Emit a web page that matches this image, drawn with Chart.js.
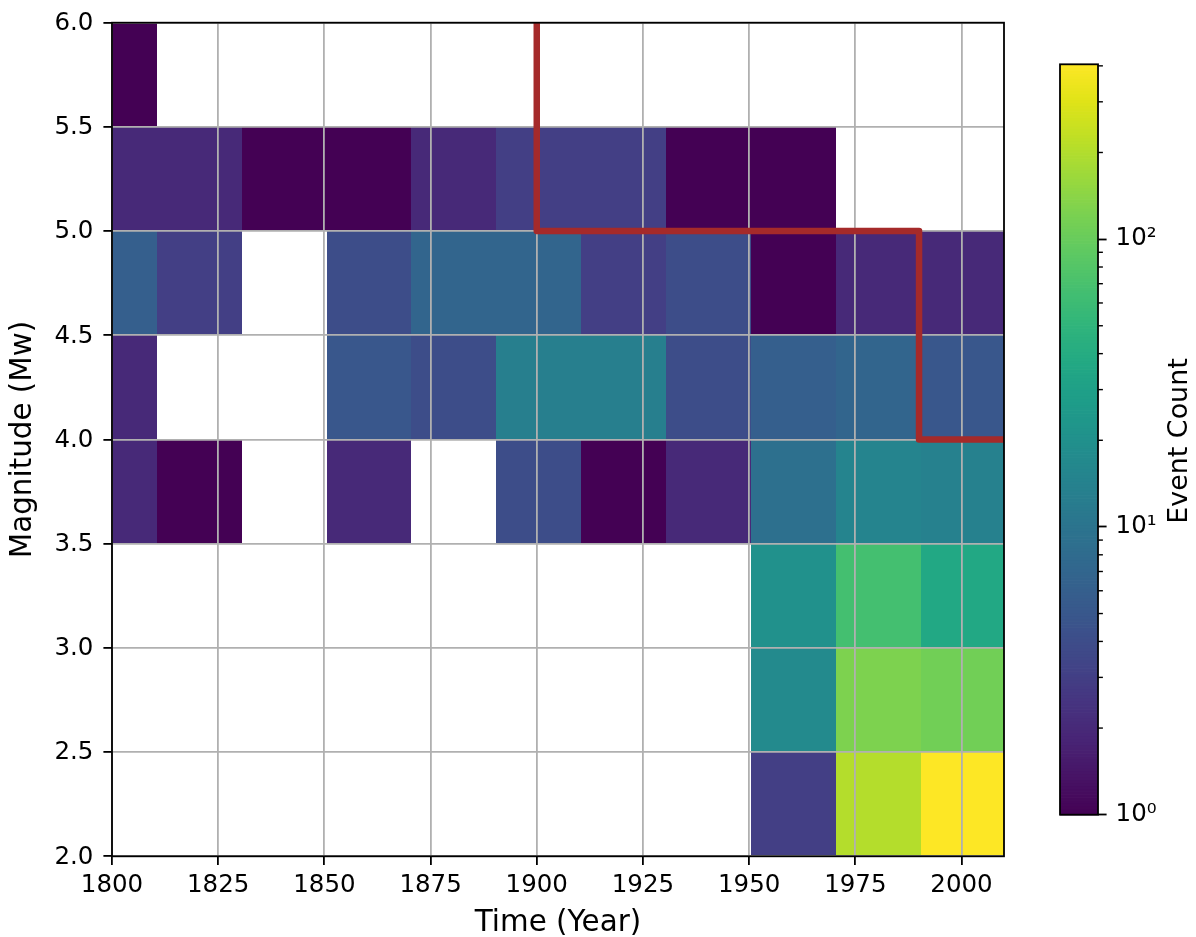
<!DOCTYPE html>
<html>
<head>
<meta charset="utf-8">
<title>Event count by magnitude and year</title>
<script src="https://cdn.jsdelivr.net/npm/chart.js@4.4.0/dist/chart.umd.min.js"></script>
<style>
  html, body { margin: 0; padding: 0; background: #fff; }
  #wrap { position: relative; width: 1196px; height: 937px; }
  #heat { position: absolute; left: 0; top: 0; }
  #cbar { position: absolute; left: 1040px; top: 0; }
</style>
</head>
<body>
<div id="wrap">
  <canvas id="heat" width="1040" height="937"></canvas>
  <canvas id="cbar" width="156" height="937"></canvas>
</div>
<script>
// bin edges of the 2d histogram
var yearEdges = [1800, 1810.5, 1830.5, 1850.5, 1870.5, 1890.5, 1910.5, 1930.5, 1950.5, 1970.5, 1990.5, 2010];
var magEdges = [2.0, 2.5, 3.0, 3.5, 4.0, 4.5, 5.0, 5.5, 6.0];

// event counts, one array per magnitude bin, one value per year bin (0 = no events)
var mag20 = [0, 0, 0, 0, 0, 0, 0, 0, 3, 206, 405];
var mag25 = [0, 0, 0, 0, 0, 0, 0, 0, 17, 125, 111];
var mag30 = [0, 0, 0, 0, 0, 0, 0, 0, 20, 67, 37];
var mag35 = [2, 1, 0, 2, 0, 4, 1, 2, 9, 15, 14];
var mag40 = [2, 0, 0, 5, 4, 13, 13, 4, 6, 7, 5];
var mag45 = [6, 3, 0, 4, 7, 7, 3, 4, 1, 2, 2];
var mag50 = [2, 2, 1, 1, 2, 3, 3, 1, 1, 0, 0];
var mag55 = [1, 0, 0, 0, 0, 0, 0, 0, 0, 0, 0];
var counts = [mag20, mag25, mag30, mag35, mag40, mag45, mag50, mag55];

// completeness step line
var stepYears = [1900, 1900, 1990, 1990, 2010];
var stepMags = [6.0, 5.0, 5.0, 4.0, 4.0];

// tick labels
var yearTicks = [1800, 1825, 1850, 1875, 1900, 1925, 1950, 1975, 2000];
var magTicks = [2.0, 2.5, 3.0, 3.5, 4.0, 4.5, 5.0, 5.5, 6.0];
var cbMajor = [1, 10, 100];
var cbMajorLabels = ['10⁰', '10¹', '10²'];
var cbMinor = [2, 3, 4, 5, 6, 7, 8, 9, 20, 30, 40, 50, 60, 70, 80, 90, 200, 300, 400];

Chart.defaults.font.family = '"DejaVu Sans", sans-serif';
Chart.defaults.color = '#000';

var viridisStops = ['#440154', '#471365', '#482475', '#463480', '#414487', '#3b528b', '#355f8d',
  '#2f6c8e', '#2a788e', '#25848e', '#21918c', '#1e9c89', '#22a884', '#2fb47c', '#44bf70',
  '#5ec962', '#7ad151', '#9bd93c', '#bddf26', '#dfe318', '#fde725'];

function hexRgb(h) {
  return [parseInt(h.substr(1, 2), 16), parseInt(h.substr(3, 2), 16), parseInt(h.substr(5, 2), 16)];
}

function viridis(t) {
  t = Math.min(1, Math.max(0, t));
  var n = viridisStops.length - 1;
  var i = Math.min(n - 1, Math.floor(t * n));
  var f = t * n - i;
  var a = hexRgb(viridisStops[i]), b = hexRgb(viridisStops[i + 1]);
  return 'rgb(' + [0, 1, 2].map(function (k) { return Math.round(a[k] + (b[k] - a[k]) * f); }).join(',') + ')';
}

var vmax = Math.max.apply(null, counts.map(function (r) { return Math.max.apply(null, r); }));
function norm(v) { return Math.log10(v) / Math.log10(vmax); }

var heatPlugin = {
  id: 'heatCells',
  beforeDraw: function (chart) {
    var ctx = chart.ctx, xs = chart.scales.x, ys = chart.scales.y;
    ctx.save();
    counts.forEach(function (row, j) {
      row.forEach(function (v, i) {
        if (!v) return;
        var x0 = Math.round(xs.getPixelForValue(yearEdges[i]));
        var x1 = Math.round(xs.getPixelForValue(yearEdges[i + 1]));
        var y0 = Math.round(ys.getPixelForValue(magEdges[j + 1]));
        var y1 = Math.round(ys.getPixelForValue(magEdges[j]));
        ctx.fillStyle = viridis(norm(v));
        ctx.fillRect(x0, y0, x1 - x0, y1 - y0);
      });
    });
    ctx.restore();
  },
  afterDraw: function (chart) {
    var a = chart.chartArea, ctx = chart.ctx;
    ctx.save();
    ctx.strokeStyle = '#000';
    ctx.lineWidth = 1.8;
    ctx.strokeRect(a.left, a.top, a.right - a.left, a.bottom - a.top);
    ctx.restore();
  }
};

new Chart(document.getElementById('heat'), {
  type: 'scatter',
  data: {
    datasets: [{
      data: stepYears.map(function (x, i) { return { x: x, y: stepMags[i] }; }),
      showLine: true,
      borderColor: '#a52a2a',
      borderWidth: 6.5,
      borderJoinStyle: 'round',
      pointRadius: 0,
      pointHoverRadius: 0
    }]
  },
  options: {
    responsive: false,
    animation: false,
    events: [],
    layout: { padding: { left: 0, top: 22.7, right: 36, bottom: 0 } },
    plugins: { legend: { display: false }, tooltip: { enabled: false } },
    scales: {
      x: {
        type: 'linear',
        min: 1800,
        max: 2010,
        afterBuildTicks: function (axis) { axis.ticks = yearTicks.map(function (v) { return { value: v }; }); },
        afterFit: function (scale) { scale.height = 80.7; },
        grid: { color: '#b0b0b0', lineWidth: 1.8, tickColor: '#000', tickWidth: 1.8, tickLength: 8.6 },
        border: { display: false },
        ticks: {
          autoSkip: false, maxRotation: 0, padding: 6.4,
          font: { size: 24.5 },
          callback: function (v) { return String(v); }
        },
        title: {
          display: true, text: 'Time (Year)',
          font: { size: 29.4, lineHeight: 0.85 },
          padding: { top: 0, bottom: 0.8 }
        }
      },
      y: {
        type: 'linear',
        min: 2,
        max: 6,
        afterBuildTicks: function (axis) { axis.ticks = magTicks.map(function (v) { return { value: v }; }); },
        afterFit: function (scale) { scale.width = 112; },
        grid: { color: '#b0b0b0', lineWidth: 1.8, tickColor: '#000', tickWidth: 1.8, tickLength: 8.6 },
        border: { display: false },
        ticks: {
          autoSkip: false, padding: 10, labelOffset: 1,
          font: { size: 24.5, lineHeight: 1 },
          callback: function (v) { return Number(v).toFixed(1); }
        },
        title: {
          display: true, text: 'Magnitude (Mw)',
          font: { size: 29.4, lineHeight: 1 },
          padding: { top: 8.8, bottom: 0 }
        }
      }
    }
  },
  plugins: [heatPlugin]
});

var cbarPlugin = {
  id: 'cbarFill',
  beforeDraw: function (chart) {
    var ctx = chart.ctx, a = chart.chartArea, ys = chart.scales.y;
    var steps = 256, top = Math.log10(vmax);
    ctx.save();
    for (var k = 0; k < steps; k++) {
      var p0 = ys.getPixelForValue(Math.pow(10, top * k / steps));
      var p1 = ys.getPixelForValue(Math.pow(10, top * (k + 1) / steps));
      ctx.fillStyle = viridis((k + 0.5) / steps);
      ctx.fillRect(a.left, p1, a.right - a.left, p0 - p1 + 0.7);
    }
    ctx.restore();
  },
  afterDraw: function (chart) {
    var ctx = chart.ctx, a = chart.chartArea, ys = chart.scales.y;
    ctx.save();
    ctx.strokeStyle = '#000';
    ctx.lineWidth = 1.4;
    cbMinor.forEach(function (v) {
      var p = ys.getPixelForValue(v);
      ctx.beginPath();
      ctx.moveTo(a.right, p);
      ctx.lineTo(a.right + 4.9, p);
      ctx.stroke();
    });
    ctx.lineWidth = 1.8;
    ctx.strokeRect(a.left, a.top, a.right - a.left, a.bottom - a.top);
    ctx.fillStyle = '#000';
    ctx.font = '26.9px "DejaVu Sans"';
    ctx.textAlign = 'center';
    ctx.textBaseline = 'middle';
    ctx.translate(139.8, (a.top + a.bottom) / 2 + 1.5);
    ctx.rotate(-Math.PI / 2);
    ctx.fillText('Event Count', 0, 0);
    ctx.restore();
  }
};

new Chart(document.getElementById('cbar'), {
  type: 'scatter',
  data: { datasets: [] },
  options: {
    responsive: false,
    animation: false,
    events: [],
    layout: { padding: { left: 20, top: 64.3, right: 0, bottom: 122.3 } },
    plugins: { legend: { display: false }, tooltip: { enabled: false } },
    scales: {
      x: { display: false, min: 0, max: 1 },
      y: {
        type: 'logarithmic',
        position: 'right',
        min: 1,
        max: vmax,
        afterBuildTicks: function (axis) { axis.ticks = cbMajor.map(function (v) { return { value: v }; }); },
        afterFit: function (scale) { scale.width = 98; },
        grid: { drawOnChartArea: false, tickColor: '#000', tickWidth: 1.8, tickLength: 8.6 },
        border: { display: false },
        ticks: {
          autoSkip: false, padding: 9,
          font: { size: 24.5, lineHeight: 1 },
          callback: function (v) {
            var i = cbMajor.indexOf(v);
            return i >= 0 ? cbMajorLabels[i] : '';
          }
        }
      }
    }
  },
  plugins: [cbarPlugin]
});
</script>
</body>
</html>
